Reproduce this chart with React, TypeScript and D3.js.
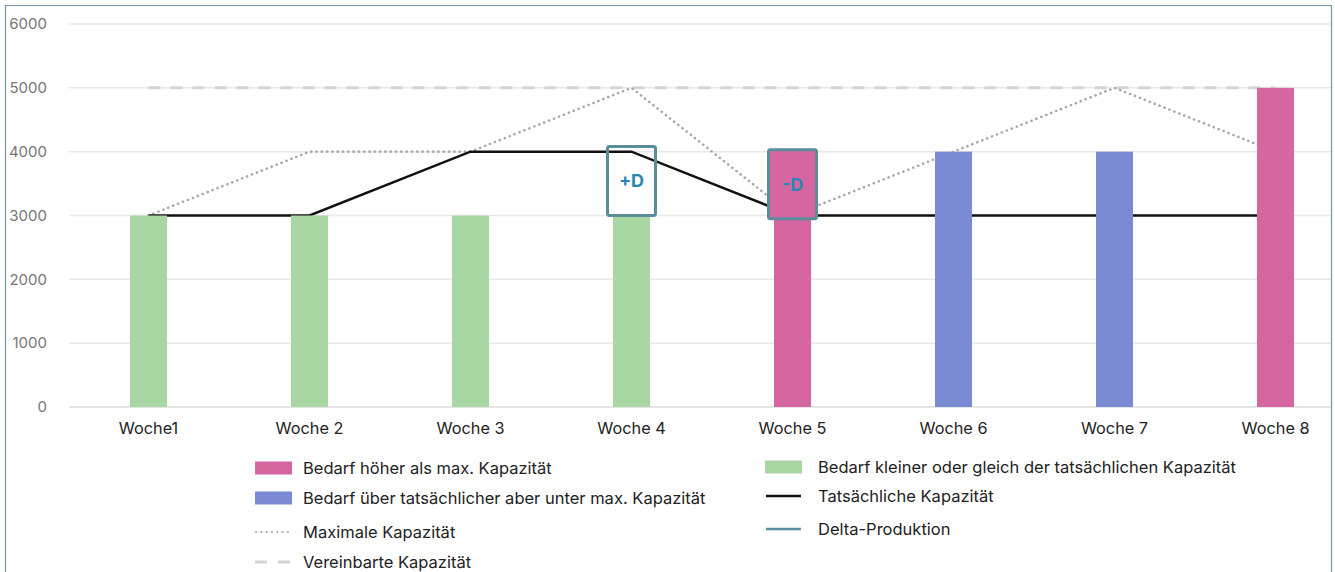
import React, { useEffect, useRef } from 'react';
import * as d3 from 'd3';

const weeks = ['Woche1', 'Woche 2', 'Woche 3', 'Woche 4', 'Woche 5', 'Woche 6', 'Woche 7', 'Woche 8'];
const demand = [3000, 3000, 3000, 3000, 4000, 4000, 4000, 5000];
const demandClass = ['ok', 'ok', 'ok', 'ok', 'over', 'mid', 'mid', 'over'];
const actualCapacity = [3000, 3000, 4000, 4000, 3000, 3000, 3000, 3000];
const maxCapacity = [3000, 4000, 4000, 5000, 3000, 4000, 5000, 4000];
const agreedCapacity = [5000, 5000, 5000, 5000, 5000, 5000, 5000, 5000];
const yTicks = [0, 1000, 2000, 3000, 4000, 5000, 6000];
const deltaBoxes = [
    { week: 'Woche 4', from: 3000, to: 4080, label: '+D', fill: 'none' },
    { week: 'Woche 5', from: 2950, to: 4030, label: '-D', fill: '#d6669f' },
];

const colors = { over: '#d6669f', mid: '#7a8bd4', ok: '#a9d7a4' };

export default function App() {
    const ref = useRef(null);

    useEffect(() => {
        const svg = d3.select(ref.current);
        svg.selectAll('*').remove();

        const height = 572;
        const font = 'Inter, "Noto Sans", sans-serif';

        const x = d3.scaleBand().domain(weeks).range([68, 1356]).paddingInner(0).paddingOuter(0);
        const y = d3.scaleLinear().domain([0, 6000]).range([407, 24]);
        const cx = (w) => x(w) + x.bandwidth() / 2;
        const barW = 37;

        svg.append('defs').append('clipPath').attr('id', 'frame')
            .append('rect').attr('x', 5).attr('y', 5).attr('width', 1327).attr('height', 580);

        const g = svg.append('g').attr('clip-path', 'url(#frame)');

        // grid
        g.append('g').selectAll('line').data(yTicks).join('line')
            .attr('x1', 69).attr('x2', 1332)
            .attr('y1', d => y(d)).attr('y2', d => y(d))
            .attr('stroke', d => d === 0 ? '#dcdcdc' : '#e8e8e8')
            .attr('stroke-width', 1.5);

        svg.append('g').selectAll('text').data(yTicks).join('text')
            .attr('x', 47).attr('y', d => y(d)).attr('dy', '0.35em')
            .attr('text-anchor', 'end')
            .attr('font-family', font).attr('font-size', 15)
            .attr('fill', '#777')
            .text(d => d);

        const line = (vals) => d3.line().x((d, i) => cx(weeks[i])).y(d => y(d))(vals);

        g.append('path').attr('d', line(agreedCapacity))
            .attr('fill', 'none').attr('stroke', '#d4d4d4').attr('stroke-width', 3)
            .attr('stroke-dasharray', '12 10');

        g.append('path').attr('d', line(maxCapacity))
            .attr('fill', 'none').attr('stroke', '#a8a8a8').attr('stroke-width', 2.6)
            .attr('stroke-linecap', 'round')
            .attr('stroke-dasharray', '0.1 5.2');

        g.append('path').attr('d', line(actualCapacity))
            .attr('fill', 'none').attr('stroke', '#111').attr('stroke-width', 2.5);

        // bars
        g.append('g').selectAll('rect').data(weeks).join('rect')
            .attr('x', d => cx(d) - barW / 2)
            .attr('width', barW)
            .attr('y', (d, i) => y(demand[i]))
            .attr('height', (d, i) => y(0) - y(demand[i]))
            .attr('fill', (d, i) => colors[demandClass[i]]);

        // delta boxes
        const boxes = g.append('g').selectAll('g').data(deltaBoxes).join('g');
        boxes.append('rect')
            .attr('x', d => cx(d.week) - 24)
            .attr('width', 48)
            .attr('y', d => y(d.to))
            .attr('height', d => y(d.from) - y(d.to))
            .attr('rx', 2)
            .attr('fill', d => d.fill)
            .attr('stroke', '#5a8d9c')
            .attr('stroke-width', 3);
        boxes.append('text')
            .attr('x', d => cx(d.week))
            .attr('y', d => (y(d.from) + y(d.to)) / 2)
            .attr('dy', '0.35em')
            .attr('text-anchor', 'middle')
            .attr('font-family', font).attr('font-size', 18).attr('font-weight', 700)
            .attr('fill', '#2a86b5')
            .text(d => d.label);

        // x labels
        svg.append('g').selectAll('text').data(weeks).join('text')
            .attr('x', d => cx(d)).attr('y', 428).attr('dy', '0.35em')
            .attr('text-anchor', 'middle')
            .attr('font-family', font).attr('font-size', 16.3)
            .attr('fill', '#222')
            .text(d => d);

        // legend
        const legend = [
            { x: 255, y: 468, type: 'rect', color: colors.over, text: 'Bedarf höher als max. Kapazität' },
            { x: 255, y: 498, type: 'rect', color: colors.mid, text: 'Bedarf über tatsächlicher aber unter max. Kapazität' },
            { x: 255, y: 532, type: 'dot', color: '#a8a8a8', text: 'Maximale Kapazität' },
            { x: 255, y: 562, type: 'dash', color: '#d4d4d4', text: 'Vereinbarte Kapazität' },
            { x: 765, y: 467, type: 'rect', color: colors.ok, text: 'Bedarf kleiner oder gleich der tatsächlichen Kapazität' },
            { x: 765, y: 496, type: 'line', color: '#111', text: 'Tatsächliche Kapazität' },
            { x: 765, y: 529, type: 'line', color: '#5a8d9c', text: 'Delta-Produktion' },
        ];
        const lg = svg.append('g').selectAll('g').data(legend).join('g')
            .attr('transform', d => `translate(${d.x},${d.y})`);
        lg.filter(d => d.type === 'rect').append('rect')
            .attr('x', 0).attr('y', -6.5).attr('width', 37).attr('height', 13)
            .attr('fill', d => d.color);
        lg.filter(d => d.type === 'line').append('line')
            .attr('x1', 1).attr('x2', 36).attr('stroke', d => d.color).attr('stroke-width', 2.5);
        lg.filter(d => d.type === 'dot').append('line')
            .attr('x1', 1).attr('x2', 36).attr('stroke', d => d.color).attr('stroke-width', 2.2)
            .attr('stroke-linecap', 'round').attr('stroke-dasharray', '0.1 5.2');
        lg.filter(d => d.type === 'dash').append('line')
            .attr('x1', 0).attr('x2', 36).attr('stroke', d => d.color).attr('stroke-width', 3)
            .attr('stroke-dasharray', '12 11');
        lg.append('text')
            .attr('x', d => d.x === 255 ? 48 : 53).attr('dy', '0.35em')
            .attr('font-family', font).attr('font-size', 16.5)
            .attr('fill', '#222')
            .text(d => d.text);

        // frame
        svg.append('path')
            .attr('d', `M5.5,${height} V5.5 H1331.5 V${height}`)
            .attr('fill', 'none').attr('stroke', '#6f98a4').attr('stroke-width', 1.2);
    }, []);

    return (
        <svg ref={ref} width={1335} height={572}
            style={{ position: 'absolute', left: 0, top: 0, background: '#fff' }} />
    );
}
